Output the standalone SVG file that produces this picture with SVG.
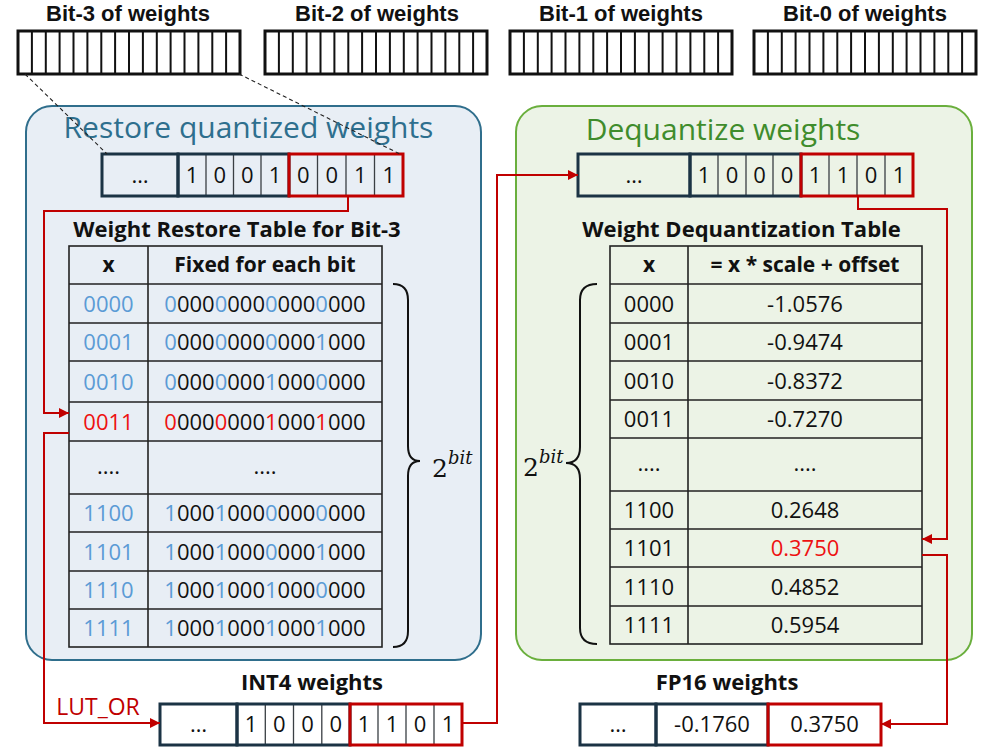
<svg xmlns="http://www.w3.org/2000/svg" xmlns:xlink="http://www.w3.org/1999/xlink" width="997" height="747" viewBox="0 0 997 747">
<style>
text{font-family:"Open Sans","Liberation Sans",sans-serif;fill:#111}
.lbl{font-size:22px;font-weight:bold;text-anchor:middle}
.top{font-family:"Liberation Sans",Arial,sans-serif;font-size:22px;font-weight:bold;text-anchor:middle}
.ttl{font-size:22px;font-weight:bold;text-anchor:middle}
.hdr{font-size:21px;font-weight:bold;text-anchor:middle}
.cell{font-size:22px;text-anchor:middle}
.b{fill:#5b9bd5}
.r{fill:#ee1111}
.thin{fill:none;stroke:#3a3f44;stroke-width:1.3}
.grp{fill:none;stroke:#1b3344;stroke-width:3}
.grpr{fill:none;stroke:#c00000;stroke-width:3}
.tbl{fill:none;stroke:#222;stroke-width:1.6}
.conn{fill:none;stroke:#c00000;stroke-width:2}
.dash{fill:none;stroke:#222;stroke-width:1.1;stroke-dasharray:4 3}
.brace{fill:none;stroke:#111;stroke-width:2}
.math{font-family:"DejaVu Serif","Liberation Serif",serif}
</style>
<defs>
<marker id="ah" viewBox="0 0 10 10" refX="10" refY="5" markerWidth="5" markerHeight="5" orient="auto" markerUnits="strokeWidth">
<path d="M0,0 L10,5 L0,10 z" fill="#c00000"/>
</marker>
<g id="arr">
<rect x="0" y="0" width="222" height="43" fill="#fff" stroke="#111" stroke-width="3"/>
<path d="M13.9,0V43M27.8,0V43M41.6,0V43M55.5,0V43M69.4,0V43M83.3,0V43M97.1,0V43M111,0V43M124.9,0V43M138.8,0V43M152.6,0V43M166.5,0V43M180.4,0V43M194.3,0V43M208.1,0V43" stroke="#111" stroke-width="2"/>
</g>
</defs>

<!-- top bit arrays -->
<g id="bit3">
<text class="top" x="128" y="21">Bit-3 of weights</text>
<use xlink:href="#arr" x="18" y="31"/>
</g>
<g id="bit2">
<text class="top" x="377" y="21">Bit-2 of weights</text>
<use xlink:href="#arr" x="265" y="31"/>
</g>
<g id="bit1">
<text class="top" x="621" y="21">Bit-1 of weights</text>
<use xlink:href="#arr" x="510" y="31"/>
</g>
<g id="bit0">
<text class="top" x="865" y="21">Bit-0 of weights</text>
<use xlink:href="#arr" x="754" y="31"/>
</g>

<!-- left panel -->
<g id="restore-panel">
<rect x="26" y="106" width="455" height="554" rx="26" fill="#e8eef5" stroke="#2f6e8c" stroke-width="2"/>
<text x="248.5" y="138" style="font-size:30px;fill:#2e6f8e;text-anchor:middle">Restore quantized weights</text>
</g>

<g id="restore-bits">
<path class="thin" d="M206,154V196M233.5,154V196M261,154V196M317.5,154V196M346,154V196M374.5,154V196"/>
<rect class="grp" x="102" y="154" width="76" height="42"/>
<rect class="grp" x="178" y="154" width="111" height="42"/>
<rect class="grpr" x="289" y="154" width="114" height="42"/>
<text class="cell" x="140" y="183">…</text>
<text class="cell" x="192" y="183">1</text>
<text class="cell" x="219.8" y="183">0</text>
<text class="cell" x="247.3" y="183">0</text>
<text class="cell" x="275" y="183">1</text>
<text class="cell" x="303.3" y="183">0</text>
<text class="cell" x="331.8" y="183">0</text>
<text class="cell" x="360.3" y="183">1</text>
<text class="cell" x="388.8" y="183">1</text>
</g>

<g id="restore-table">
<text class="ttl" x="237" y="237">Weight Restore Table for Bit-3</text>
<rect class="tbl" x="69" y="246" width="313" height="401"/>
<path class="tbl" d="M148,246V647M69,284H382M69,323H382M69,361H382M69,402H382M69,441H382M69,494H382M69,532H382M69,571H382M69,609H382"/>
<text class="hdr" x="108.5" y="272">x</text>
<text class="hdr" x="265" y="272">Fixed for each bit</text>
<text class="cell b" x="108.5" y="311.5">0000</text>
<text class="cell" x="265" y="311.5"><tspan class="b">0</tspan>000<tspan class="b">0</tspan>000<tspan class="b">0</tspan>000<tspan class="b">0</tspan>000</text>
<text class="cell b" x="108.5" y="350">0001</text>
<text class="cell" x="265" y="350"><tspan class="b">0</tspan>000<tspan class="b">0</tspan>000<tspan class="b">0</tspan>000<tspan class="b">1</tspan>000</text>
<text class="cell b" x="108.5" y="389.5">0010</text>
<text class="cell" x="265" y="389.5"><tspan class="b">0</tspan>000<tspan class="b">0</tspan>000<tspan class="b">1</tspan>000<tspan class="b">0</tspan>000</text>
<text class="cell r" x="108.5" y="429.5">0011</text>
<text class="cell" x="265" y="429.5"><tspan class="r">0</tspan>000<tspan class="r">0</tspan>000<tspan class="r">1</tspan>000<tspan class="r">1</tspan>000</text>
<text class="cell" x="108.5" y="474">....</text>
<text class="cell" x="265" y="474">....</text>
<text class="cell b" x="108.5" y="521">1100</text>
<text class="cell" x="265" y="521"><tspan class="b">1</tspan>000<tspan class="b">1</tspan>000<tspan class="b">0</tspan>000<tspan class="b">0</tspan>000</text>
<text class="cell b" x="108.5" y="559.5">1101</text>
<text class="cell" x="265" y="559.5"><tspan class="b">1</tspan>000<tspan class="b">1</tspan>000<tspan class="b">0</tspan>000<tspan class="b">1</tspan>000</text>
<text class="cell b" x="108.5" y="598">1110</text>
<text class="cell" x="265" y="598"><tspan class="b">1</tspan>000<tspan class="b">1</tspan>000<tspan class="b">1</tspan>000<tspan class="b">0</tspan>000</text>
<text class="cell b" x="108.5" y="636">1111</text>
<text class="cell" x="265" y="636"><tspan class="b">1</tspan>000<tspan class="b">1</tspan>000<tspan class="b">1</tspan>000<tspan class="b">1</tspan>000</text>
<path class="brace" d="M393,284 Q408,284 408,300 V446 Q408,461 420,461 Q408,461 408,476 V631 Q408,647 393,647"/>
<text class="math" x="432" y="477" style="font-size:25px">2<tspan dy="-13" style="font-size:18px;font-style:italic">bit</tspan></text>
</g>

<!-- right panel -->
<g id="dequant-panel">
<rect x="516" y="106" width="456" height="554" rx="26" fill="#ecf3e6" stroke="#6aaf3d" stroke-width="2"/>
<text x="723" y="140" style="font-size:30px;fill:#3f8c2c;text-anchor:middle">Dequantize weights</text>
</g>

<g id="dequant-bits">
<path class="thin" d="M718,154V196M746,154V196M773,154V196M829,154V196M857,154V196M885,154V196"/>
<rect class="grp" x="578" y="154" width="112" height="42"/>
<rect class="grp" x="690" y="154" width="111" height="42"/>
<rect class="grpr" x="801" y="154" width="112" height="42"/>
<text class="cell" x="634" y="183">…</text>
<text class="cell" x="704" y="183">1</text>
<text class="cell" x="732" y="183">0</text>
<text class="cell" x="759.5" y="183">0</text>
<text class="cell" x="787" y="183">0</text>
<text class="cell" x="815" y="183">1</text>
<text class="cell" x="843" y="183">1</text>
<text class="cell" x="871" y="183">0</text>
<text class="cell" x="899" y="183">1</text>
</g>

<g id="dequant-table">
<text class="ttl" x="741.5" y="237">Weight Dequantization Table</text>
<rect class="tbl" x="610" y="246" width="312" height="398"/>
<path class="tbl" d="M688,246V644M610,284H922M610,323H922M610,361H922M610,400H922M610,438H922M610,491H922M610,529H922M610,567H922M610,606H922"/>
<text class="hdr" x="649" y="272">x</text>
<text class="hdr" x="805" y="272">= x * scale + offset</text>
<text class="cell" x="649" y="311.5">0000</text><text class="cell" x="805" y="311.5">-1.0576</text>
<text class="cell" x="649" y="350">0001</text><text class="cell" x="805" y="350">-0.9474</text>
<text class="cell" x="649" y="388.5">0010</text><text class="cell" x="805" y="388.5">-0.8372</text>
<text class="cell" x="649" y="427">0011</text><text class="cell" x="805" y="427">-0.7270</text>
<text class="cell" x="649" y="471">....</text><text class="cell" x="805" y="471">....</text>
<text class="cell" x="649" y="518">1100</text><text class="cell" x="805" y="518">0.2648</text>
<text class="cell" x="649" y="556">1101</text><text class="cell r" x="805" y="556">0.3750</text>
<text class="cell" x="649" y="594.5">1110</text><text class="cell" x="805" y="594.5">0.4852</text>
<text class="cell" x="649" y="633">1111</text><text class="cell" x="805" y="633">0.5954</text>
<path class="brace" d="M597,284 Q580,284 580,300 V447 Q580,463 566,463 Q580,463 580,479 V628 Q580,644 597,644"/>
<text class="math" x="523" y="476" style="font-size:25px">2<tspan dy="-13" style="font-size:18px;font-style:italic">bit</tspan></text>
</g>

<!-- INT4 weights -->
<g id="int4">
<text class="lbl" x="312" y="690">INT4 weights</text>
<path class="thin" d="M265.3,704V745M293.5,704V745M321.8,704V745M378,704V745M406,704V745M434,704V745"/>
<rect class="grp" x="160" y="704" width="77" height="41"/>
<rect class="grp" x="237" y="704" width="113" height="41"/>
<rect class="grpr" x="350" y="704" width="112" height="41"/>
<text class="cell" x="198.5" y="732">…</text>
<text class="cell" x="251" y="732">1</text>
<text class="cell" x="279.4" y="732">0</text>
<text class="cell" x="307.6" y="732">0</text>
<text class="cell" x="335.9" y="732">0</text>
<text class="cell" x="364" y="732">1</text>
<text class="cell" x="392" y="732">1</text>
<text class="cell" x="420" y="732">0</text>
<text class="cell" x="448" y="732">1</text>
</g>

<!-- FP16 weights -->
<g id="fp16">
<text class="lbl" x="727" y="690">FP16 weights</text>
<rect class="grp" x="580" y="704" width="76" height="41"/>
<rect class="grp" x="656" y="704" width="112" height="41"/>
<rect class="grpr" x="768" y="704" width="113" height="41"/>
<text class="cell" x="618" y="732">…</text>
<text class="cell" x="712" y="732">-0.1760</text>
<text class="cell" x="824.5" y="732">0.3750</text>
</g>

<text x="98" y="715" style="font-size:23px;fill:#c00000;text-anchor:middle">LUT_OR</text>

<!-- connectors -->
<g id="connectors">
<path class="dash" d="M25,74 L107,154"/>
<path class="dash" d="M239,74 L400,154"/>
<path class="conn" d="M348,196 V211 H44 V413 H69" marker-end="url(#ah)"/>
<path class="conn" d="M69,433 H44 V723 H160" marker-end="url(#ah)"/>
<path class="conn" d="M462,723 H497 V175 H578" marker-end="url(#ah)"/>
<path class="conn" d="M858,196 V209 H947 V539 H922" marker-end="url(#ah)"/>
<path class="conn" d="M922,555 H947 V724 H881" marker-end="url(#ah)"/>
</g>
</svg>
